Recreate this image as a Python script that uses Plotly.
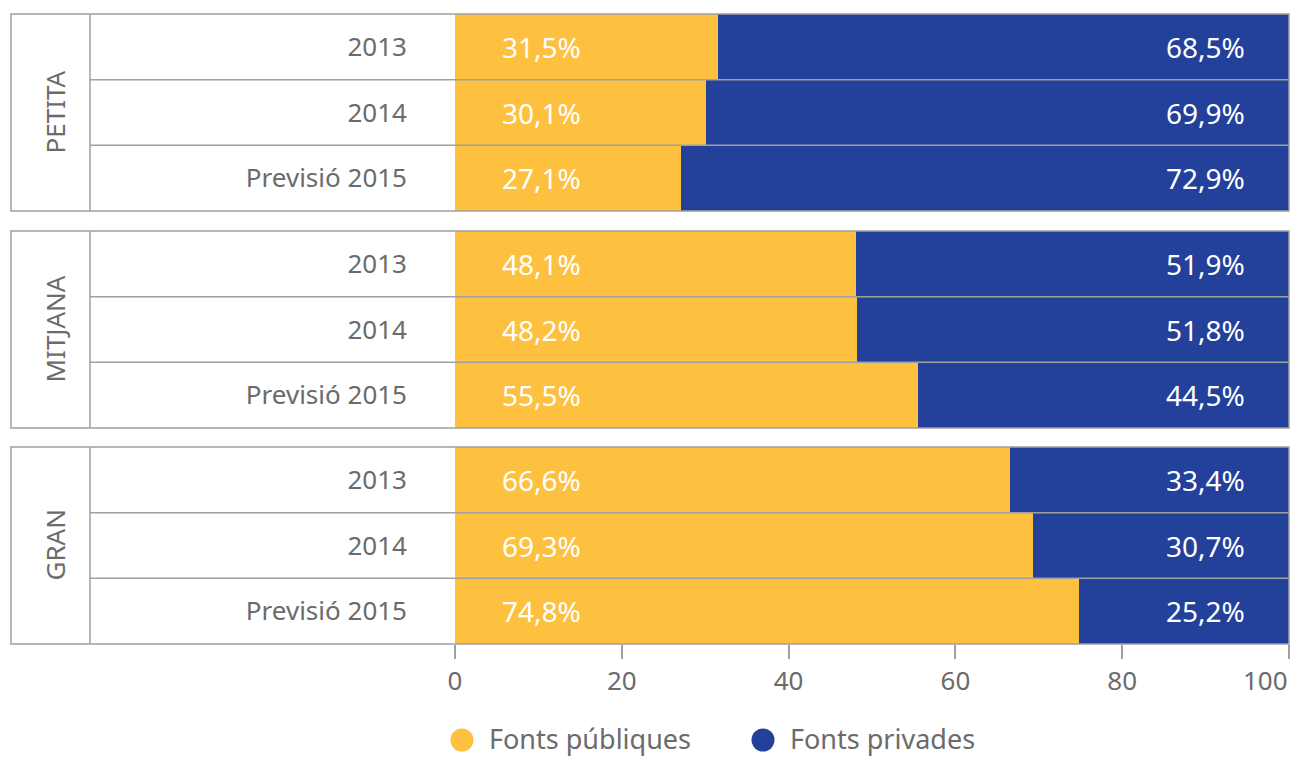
import plotly.graph_objects as go
from plotly.subplots import make_subplots

groups = ["PETITA", "MITJANA", "GRAN"]
periods = ["2013", "2014", "Previsió 2015"]
publiques = [[31.5, 30.1, 27.1], [48.1, 48.2, 55.5], [66.6, 69.3, 74.8]]
privades = [[68.5, 69.9, 72.9], [51.9, 51.8, 44.5], [33.4, 30.7, 25.2]]
series_names = ["Fonts públiques", "Fonts privades"]
x_ticks = [0, 20, 40, 60, 80, 100]
x_tick_labels = ["0", "20", "40", "60", "80", "100"]

YELLOW = "#FDC13F"
BLUE = "#23419B"
GREY_TXT = "#6b6b6b"
LINE = "#a0a0a0"
FONT = "Noto Sans"

# the page has the browser's default 8px body margin
OFF = 8
W, H = 1299 - 2 * OFF, 758 - OFF
PL, PR, PT, PB = 455, 1289, 14, 644  # plot area in page pixels
ml, mr, mt, mb = PL - OFF, (OFF + W) - PR, PT - OFF, (OFF + H) - PB


def py(px):
    return (PB - px) / (PB - PT)


def pxx(px):
    return (px - PL) / (PR - PL)


panels = [(14, 211), (231, 428), (447, 644)]

fig = make_subplots(rows=3, cols=1, shared_xaxes=True, vertical_spacing=0.02)


def fmt(v):
    return f"{v:.1f}".replace(".", ",") + "%"


yidx = [0, 1, 2]
for g in range(3):
    r = g + 1
    fig.add_trace(go.Bar(y=yidx, x=publiques[g], orientation="h", marker=dict(color=YELLOW, line=dict(width=0)),
                         width=1, name=series_names[0], showlegend=False, hoverinfo="skip"), row=r, col=1)
    fig.add_trace(go.Bar(y=yidx, x=privades[g], orientation="h", marker=dict(color=BLUE, line=dict(width=0)),
                         width=1, name=series_names[1], showlegend=False, hoverinfo="skip"), row=r, col=1)
    yname = "y" if r == 1 else f"y{r}"
    xname = "x" if r == 1 else f"x{r}"
    for i in range(3):
        fig.add_annotation(x=0, y=i, xref=xname, yref=yname, text=fmt(publiques[g][i]), showarrow=False,
                           xanchor="left", xshift=45, font=dict(family=FONT, size=28, color="white"))
        fig.add_annotation(x=100, y=i, xref=xname, yref=yname, text=fmt(privades[g][i]), showarrow=False,
                           xanchor="right", xshift=-42, font=dict(family=FONT, size=28, color="white"))
    for b in [0.5, 1.5]:
        fig.add_shape(type="line", xref="paper", yref=yname, x0=pxx(90), x1=1, y0=b, y1=b,
                      line=dict(color=LINE, width=1.5), layer="above")
    fig.add_shape(type="rect", xref="paper", yref=f"{yname} domain", x0=pxx(11), x1=1, y0=0, y1=1,
                  line=dict(color=LINE, width=1.5), layer="above")
    fig.add_shape(type="line", xref="paper", yref=f"{yname} domain", x0=pxx(90), x1=pxx(90), y0=0, y1=1,
                  line=dict(color=LINE, width=1.5), layer="above")
    top, bot = panels[g]
    fig.add_annotation(x=pxx(54), y=(py(top) + py(bot)) / 2, xref="paper", yref="paper", text=groups[g],
                       textangle=-90, showarrow=False, xanchor="center", yanchor="middle",
                       font=dict(family=FONT, size=26, color=GREY_TXT))
    fig.update_yaxes(row=r, col=1, domain=[py(bot), py(top)], range=[2.5, -0.5], tickvals=yidx, ticktext=periods,
                     ticks="", showgrid=False, zeroline=False, showline=False, ticklabelstandoff=47,
                     automargin=False, tickfont=dict(family=FONT, size=26, color=GREY_TXT))
    fig.update_xaxes(row=r, col=1, range=[0, 100], showgrid=False, zeroline=False, showline=False,
                     tickvals=x_ticks, ticktext=x_tick_labels[:-1] + [""], ticks="outside" if r == 3 else "",
                     ticklen=14, tickcolor=LINE, tickwidth=1.5, automargin=False,
                     showticklabels=(r == 3), tickfont=dict(family=FONT, size=26, color=GREY_TXT))

# last tick label kept inside the page, right-aligned at its tick
fig.add_annotation(x=x_ticks[-1], y=py(680), xref="x3", yref="paper", text=x_tick_labels[-1], showarrow=False,
                   xanchor="right", yanchor="middle", xshift=1, font=dict(family=FONT, size=26, color=GREY_TXT))

# legend: circle + label
LEG_Y = 739
legend_pos = [(462, 487), (763, 788)]
for name, col, (cx, tx) in zip(series_names, [YELLOW, BLUE], legend_pos):
    fig.add_shape(type="circle", xref="paper", yref="paper", xsizemode="pixel", ysizemode="pixel",
                  xanchor=pxx(cx), yanchor=py(LEG_Y + 1), x0=-11.5, x1=11.5, y0=-11.5, y1=11.5,
                  fillcolor=col, line=dict(width=0))
    fig.add_annotation(x=pxx(tx), y=py(LEG_Y), xref="paper", yref="paper", text=name, showarrow=False,
                       xanchor="left", yanchor="middle", font=dict(family=FONT, size=27, color=GREY_TXT))

fig.update_layout(
    width=W, height=H, barmode="stack", bargap=0,
    margin=dict(l=ml, r=mr, t=mt, b=mb, autoexpand=False),
    plot_bgcolor="white", paper_bgcolor="white",
    showlegend=False,
)

fig.write_html("out.html")
